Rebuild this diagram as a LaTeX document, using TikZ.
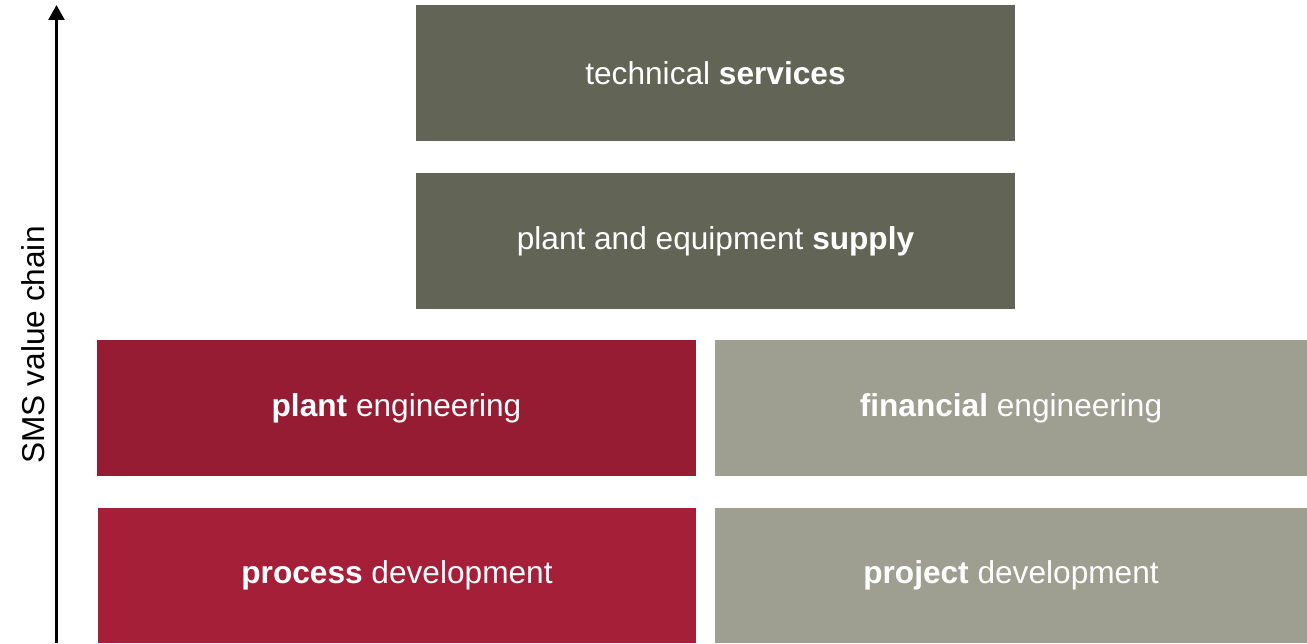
\documentclass[tikz,border=0pt]{standalone}
\usepackage{fontspec}
\setmainfont{Liberation Sans}
\usetikzlibrary{arrows, arrows.meta}
\definecolor{olive}{HTML}{626455}
\definecolor{darkred}{HTML}{951C32}
\definecolor{lightred}{HTML}{A51F38}
\definecolor{stone}{HTML}{9E9F91}
\tikzset{
  block/.style={rectangle, inner sep=0pt, minimum height=2.72cm, text=white, font=\fontsize{18}{21}\selectfont},
}

\begin{document}
\begin{tikzpicture}
      \useasboundingbox (0,0) rectangle (26.14,-12.86);
      \node[block, fill=olive, minimum width=11.98cm] (services) at (14.31,-1.46) {technical \textbf{services}};
      \node[block, fill=olive, minimum width=11.98cm] (supply) at (14.31,-4.82) {plant and equipment \textbf{supply}};
      \node[block, fill=darkred, minimum width=11.98cm] (planteng) at (7.93,-8.16) {\textbf{plant} engineering};
      \node[block, fill=stone, minimum width=11.84cm] (fineng) at (20.22,-8.16) {\textbf{financial} engineering};
      \node[block, fill=lightred, minimum width=11.96cm, minimum height=2.70cm] (process) at (7.94,-11.51) {\textbf{process} development};
      \node[block, fill=stone, minimum width=11.84cm, minimum height=2.70cm] (project) at (20.22,-11.51) {\textbf{project} development};

      \coordinate (base) at (1.13,-12.86);
      \coordinate (tip) at (1.13,-0.1);
      \draw[line width=1.7pt, -{Triangle[width=9pt, length=8.5pt]}] (base) -- (tip);
      \node[rotate=90, font=\fontsize{18}{21}\selectfont] (chain) at (0.66,-6.9) {SMS value chain};
    \end{tikzpicture}
\end{document}
